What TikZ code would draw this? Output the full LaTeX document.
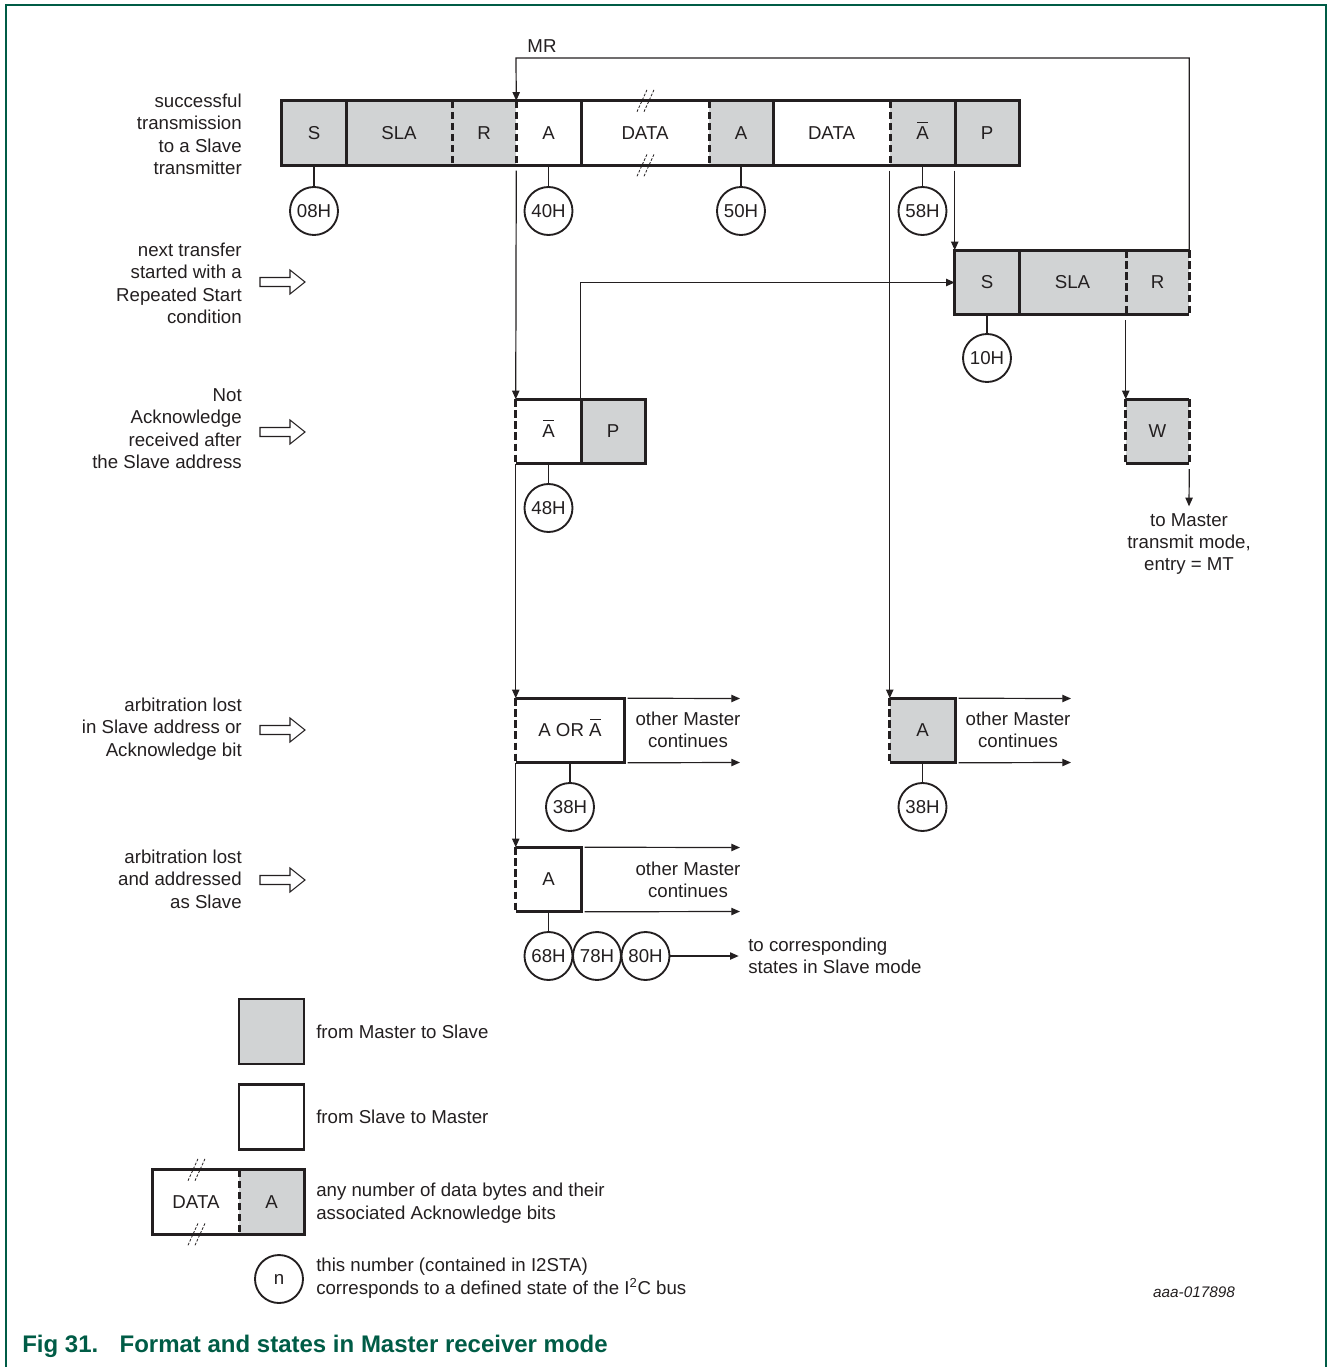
\documentclass[tikz,border=0pt]{standalone}
\usepackage{fontspec}
\setmainfont{Liberation Sans}
\usepackage{tikz}
\usetikzlibrary{arrows.meta}

\definecolor{ink}{RGB}{35,31,32}
\definecolor{cellgray}{RGB}{209,211,212}
\definecolor{nxpgreen}{RGB}{0,92,70}

\newcommand{\lblfont}{\fontsize{14}{16.8}\selectfont}
\newcommand{\nack}{\ooalign{A\cr\hidewidth\smash{\rule[12.6pt]{8pt}{0.8pt}}\hidewidth\cr}}

\tikzset{
  cell/.style={inner sep=0pt, minimum height=48pt, text=ink, font=\lblfont},
  graycell/.style={cell, fill=cellgray},
  whitecell/.style={cell, fill=white},
  statecirc/.style={circle, draw=ink, line width=1.4pt, minimum size=36pt, inner sep=0pt, fill=white, text=ink, font=\lblfont},
  boxline/.style={draw=ink, line width=2pt},
  dashline/.style={draw=ink, line width=2pt, dash pattern=on 5.5pt off 2.8pt},
  conn/.style={draw=ink, line width=0.9pt},
  arr/.style={conn, -{Triangle[length=6.5pt,width=5.5pt]}},
  lbl/.style={inner sep=0pt, text=ink, font=\lblfont},
  brkline/.style={draw=ink, line width=0.6pt, dash pattern=on 2pt off 1.2pt},
  brk/.pic={\draw[brkline] (-8,-11) -- (2,11) (-1,-11) -- (9,11);},
  hollow/.pic={\draw[draw=ink, line width=0.8pt, fill=white] (-22,-4.5) -- (8,-4.5) -- (8,-12) -- (23,0) -- (8,12) -- (8,4.5) -- (-22,4.5) -- cycle;}
}

\begin{document}
\begin{tikzpicture}[x=0.75pt,y=0.75pt,yscale=-1,xscale=1]
\useasboundingbox (0,0) rectangle (1328,1367);

%Frame
\draw[draw=nxpgreen, line width=1.2pt] (6,1367) -- (6,5) -- (1326,5) -- (1326,1367);

%Top row
\node[graycell, minimum width=48pt] (s1) at (314,133) {S};
\node[graycell, minimum width=79.5pt] (sla1) at (399,133) {SLA};
\node[graycell, minimum width=48pt] (r1) at (484,133) {R};
\node[whitecell, minimum width=48.75pt] (a1) at (548.5,133) {A};
\node[whitecell, minimum width=96pt] (data1) at (645,133) {DATA};
\node[graycell, minimum width=48pt] (a2) at (741,133) {A};
\node[whitecell, minimum width=87.75pt] (data2) at (831.5,133) {DATA};
\node[graycell, minimum width=48.75pt] (nak1) at (922.5,133) {\nack};
\node[graycell, minimum width=48pt] (p1) at (987,133) {P};
\draw[boxline] (s1.north east) -- (s1.south east) (a1.north east) -- (a1.south east) (a2.north east) -- (a2.south east) (nak1.north east) -- (nak1.south east);
\draw[dashline] (sla1.north east) -- (sla1.south east) (r1.north east) -- (r1.south east) (data1.north east) -- (data1.south east) (data2.north east) -- (data2.south east);
\draw[boxline] (s1.north west) rectangle (p1.south east);
\pic at (data1.north) {brk};
\pic at (data1.south) {brk};

%States of top row
\node[statecirc] (st08) at (314,211) {08H};
\node[statecirc] (st40) at (548.5,211) {40H};
\node[statecirc] (st50) at (741,211) {50H};
\node[statecirc] (st58) at (922.5,211) {58H};
\draw[conn] (s1.south) -- (st08);
\draw[conn] (a1.south) -- (st40);
\draw[conn] (a2.south) -- (st50);
\draw[conn] (nak1.south) -- (st58);

%Repeated start row
\node[graycell, minimum width=48pt] (s2) at (987,282.5) {S};
\node[graycell, minimum width=80.25pt] (sla2) at (1072.5,282.5) {SLA};
\node[graycell, minimum width=47.25pt] (r2) at (1157.5,282.5) {R};
\draw[boxline] (s2.north east) -- (s2.south east);
\draw[dashline] (sla2.north east) -- (sla2.south east) (r2.north east) -- (r2.south east);
\draw[boxline] (r2.north east) -- (s2.north west) -- (s2.south west) -- (r2.south east);
\node[statecirc] (st10) at (987,358) {10H};
\draw[conn] (s2.south) -- (st10);

%W box
\node[graycell, minimum width=47.25pt] (w1) at (1157.5,431.5) {W};
\draw[boxline] (w1.north west) -- (w1.north east) (w1.south west) -- (w1.south east);
\draw[dashline] (w1.north west) -- (w1.south west) (w1.north east) -- (w1.south east);
\node[lbl, align=center, anchor=north] (tomt) at (1189,513) {to Master\\transmit mode,\\entry = MT};

%Not acknowledge box
\node[whitecell, minimum width=48.75pt] (nak2) at (548.5,431.5) {\nack};
\node[graycell, minimum width=48pt] (p2) at (613,431.5) {P};
\draw[boxline] (nak2.north east) -- (nak2.south east);
\draw[boxline] (nak2.north west) -- (p2.north east) -- (p2.south east) -- (nak2.south west);
\draw[dashline] (nak2.north west) -- (nak2.south west);
\node[statecirc] (st48) at (548.5,508) {48H};
\draw[conn] (nak2.south) -- (st48);

%Arbitration lost boxes
\node[whitecell, minimum width=81pt] (aora) at (570,730.5) {A OR \nack};
\draw[boxline] (aora.north west) -- (aora.north east) -- (aora.south east) -- (aora.south west);
\draw[dashline] (aora.north west) -- (aora.south west);
\node[statecirc] (st38a) at (570,807) {38H};
\draw[conn] (aora.south) -- (st38a);

\node[graycell, minimum width=48.75pt] (a3) at (922.5,730.5) {A};
\draw[boxline] (a3.north west) -- (a3.north east) -- (a3.south east) -- (a3.south west);
\draw[dashline] (a3.north west) -- (a3.south west);
\node[statecirc] (st38b) at (922.5,807) {38H};
\draw[conn] (a3.south) -- (st38b);

\node[whitecell, minimum width=48.75pt] (a4) at (548.5,879.5) {A};
\draw[boxline] (a4.north west) -- (a4.north east) -- (a4.south east) -- (a4.south west);
\draw[dashline] (a4.north west) -- (a4.south west);
\node[statecirc] (st68) at (548.5,956) {68H};
\node[statecirc] (st78) at (597,956) {78H};
\node[statecirc] (st80) at (645.5,956) {80H};
\draw[conn] (a4.south) -- (st68);

% Text Node
\node[lbl, align=center] (om1) at (688,730) {other Master\\continues};
\node[lbl, align=center] (om2) at (1018,730) {other Master\\continues};
\node[lbl, align=center] (om3) at (688,880) {other Master\\continues};
\node[lbl, align=left, anchor=west] (slv) at (748,956) {to corresponding\\states in Slave mode};
\coordinate (om1a) at (740,698.5);
\coordinate (om1b) at (740,762.5);
\coordinate (om2a) at (1071,698.5);
\coordinate (om2b) at (1071,762.5);
\coordinate (om3a) at (740,847.5);
\coordinate (om3b) at (740,911.5);
\draw[arr] ([xshift=2.5pt]aora.north east) -- (om1a);
\draw[arr] ([xshift=2.5pt]aora.south east) -- (om1b);
\draw[arr] ([xshift=2.5pt]a3.north east) -- (om2a);
\draw[arr] ([xshift=2.5pt]a3.south east) -- (om2b);
\draw[arr] ([xshift=2.5pt]a4.north east) -- (om3a);
\draw[arr] ([xshift=2.5pt]a4.south east) -- (om3b);
\draw[arr] (st80) -- ([xshift=-7pt]slv.west);

%Flow lines
\coordinate (mrc) at (516,58);
\node[lbl] (mrlbl) at (542,46) {MR};
\draw[arr] (r2.north east) |- (mrc) -- (r1.north east);
\draw[arr] ([yshift=4pt]r1.south east) -- (nak2.north west);
\draw[arr] (nak2.south west) -- (aora.north west);
\draw[arr] (aora.south west) -- (a4.north west);
\draw[arr] ([yshift=4pt]nak1.south west) -- (a3.north west);
\draw[arr] ([yshift=4pt]p1.south west) -- (s2.north west);
\draw[arr] (p2.north west) |- (s2.west);
\draw[arr] ([yshift=4pt]r2.south west) -- (w1.north west);
\draw[arr] ([yshift=4pt]w1.south east) -- ([yshift=-5pt]tomt.north);

%Left labels
\node[lbl, align=right, anchor=east] (lb1) at (242,134.5) {successful\\transmission\\to a Slave\\transmitter};
\node[lbl, align=right, anchor=east] (lb2) at (242,283.5) {next transfer\\started with a\\Repeated Start\\condition};
\node[lbl, align=right, anchor=east] (lb3) at (242,428.5) {Not\\Acknowledge\\received after\\the Slave address};
\node[lbl, align=right, anchor=east] (lb4) at (242,729) {arbitration lost\\in Slave address or\\Acknowledge bit};
\node[lbl, align=right, anchor=east] (lb5) at (242,879) {arbitration lost\\and addressed\\as Slave};
\pic at (282,282) {hollow};
\pic at (282,432) {hollow};
\pic at (282,730) {hollow};
\pic at (282,880) {hollow};

%Legend
\node[graycell, boxline, minimum width=48.75pt, minimum height=48.75pt] (lg1) at (271.5,1031.5) {};
\node[lbl, anchor=west] (lt1) at (316,1031.5) {from Master to Slave};
\node[whitecell, boxline, minimum width=48.75pt, minimum height=48.75pt] (lg2) at (271.5,1117) {};
\node[lbl, anchor=west] (lt2) at (316,1117) {from Slave to Master};
\node[whitecell, minimum width=64.5pt] (lgd) at (196,1202) {DATA};
\node[graycell, minimum width=48.75pt] (lga) at (271.5,1202) {A};
\draw[dashline] (lgd.north east) -- (lgd.south east);
\draw[boxline] (lgd.north west) rectangle (lga.south east);
\pic at (lgd.north) {brk};
\pic at (lgd.south) {brk};
\node[lbl, anchor=west, align=left] (lt3) at (316,1203) {any number of data bytes and their\\associated Acknowledge bits};
\node[statecirc] (lgn) at (279,1279) {n};
\node[lbl, anchor=west, align=left] (lt4) at (316,1278) {this number (contained in I2STA)\\corresponds to a defined state of the I\textsuperscript{2}C bus};

% Text Node
\node[inner sep=0pt, text=ink, font=\itshape\fontsize{11.5}{13}\selectfont] (docid) at (1194,1292) {aaa-017898};
\node[anchor=west, inner sep=0pt, text=nxpgreen, font=\bfseries\fontsize{18}{21}\selectfont] (caption) at (22,1346) {Fig 31.\hspace{16pt}Format and states in Master receiver mode};

\end{tikzpicture}
\end{document}
